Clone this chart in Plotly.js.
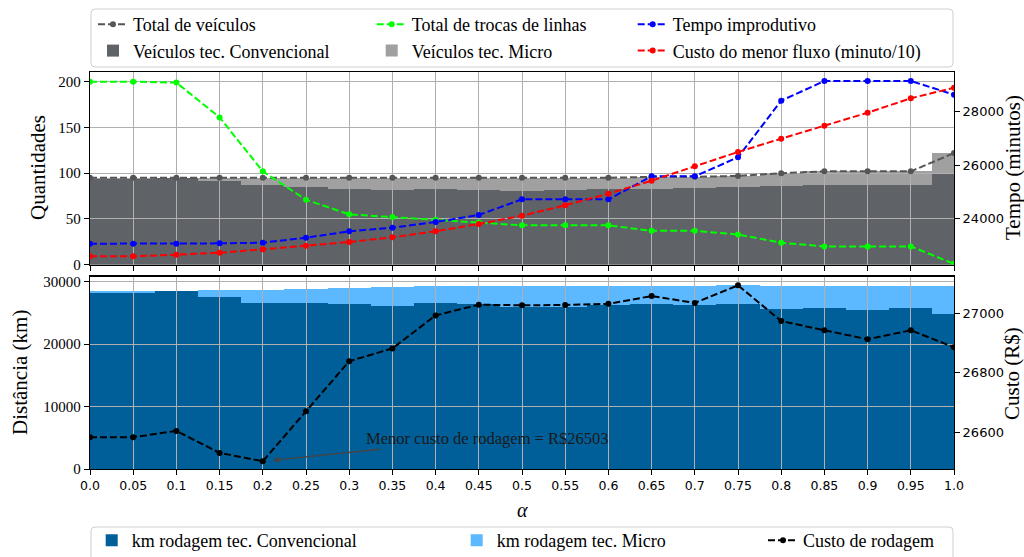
<!DOCTYPE html>
<html><head><meta charset="utf-8">
<script src="https://cdn.plot.ly/plotly-3.0.1.min.js"></script>
<style>html,body{margin:0;padding:0;background:#fff;}#chart{width:1024px;height:557px;}</style>
</head><body><div id="chart"></div>
<script>
// ---------- data ----------
const alpha = [0,0.05,0.1,0.15,0.2,0.25,0.3,0.35,0.4,0.45,0.5,0.55,0.6,0.65,0.7,0.75,0.8,0.85,0.9,0.95,1.0];
const alphaLabels = ['0.0','0.05','0.1','0.15','0.2','0.25','0.3','0.35','0.4','0.45','0.5','0.55','0.6','0.65','0.7','0.75','0.8','0.85','0.9','0.95','1.0'];
const totalVeiculos = [95,95,95,95,95,95,95,95,95,95,95,95,95,96,96,97,100,102,102,102,122];
const veiculosConv = [94,94,95,91,87,85,83,82,83,82,81,82,83,83,84,85,86,87,87,87,100];
const veiculosMicro = [1,1,0,4,8,10,12,13,12,13,14,13,12,13,12,12,14,15,15,15,22];
const trocasLinhas = [200,200,199,161,102,71,55,52,49,46,43,43,43,37,37,33,24,20,20,20,1];
const tempoImprodutivo = [23065,23065,23065,23078,23103,23290,23529,23664,23877,24138,24725,24725,24725,25585,25585,26295,28411,29148,29148,29148,28636];
const custoMenorFluxo = [22594,22594,22654,22729,22853,22990,23129,23304,23529,23802,24112,24501,24935,25421,25959,26494,26991,27477,27963,28500,28897];
const kmConv = [28259,28259,28580,27618,26657,26657,26390,26176,26657,26390,26016,26016,26229,26497,26229,26497,25642,25802,25482,25802,24894];
const kmMicro = [270,270,0,1070,2030,2190,2620,3040,2720,2990,3370,3370,3150,2880,3150,3040,3740,3580,3900,3580,4490];
const custoRodagem = [26584,26584,26605,26531,26503,26671,26839,26882,26993,27029,27027,27028,27032,27058,27035,27094,26974,26943,26913,26943,26886];
const leftTicksTop = [0,50,100,150,200];
const rightTicksTop = [24000,26000,28000];
const leftTicksBottom = [0,10000,20000,30000];
const rightTicksBottom = [26600,26800,27000];

// ---------- styling ----------
const SERIF = 'Liberation Serif, Times New Roman, serif';
const SANS = 'DejaVu Sans, sans-serif';
const GRID = '#b0b0b0';
const DASH = '7px,3px';
const W = 1024, H = 557;
const M = {l: 90, r: 70, t: 72, b: 88};
const PW = W - M.l - M.r, PH = H - M.t - M.b;
const px2x = p => (p - M.l) / PW;
const py2y = p => (H - M.b - p) / PH;

function lineTrace(name, y, color, xa, ya, legend, rank) {
  return {type: 'scatter', mode: 'lines+markers', x: alpha, y: y, name: name,
    xaxis: xa, yaxis: ya, legend: legend, legendrank: rank,
    line: {color: color, width: 2, dash: DASH}, marker: {color: color, size: 6}};
}
function barTrace(name, y, color, xa, ya, legend, rank) {
  return {type: 'bar', x: alpha, y: y, name: name, width: 0.05,
    xaxis: xa, yaxis: ya, legend: legend, legendrank: rank,
    marker: {color: color, line: {width: 0}}};
}

const traces = [
  barTrace('Veículos tec. Convencional', veiculosConv, '#5f6266', 'x', 'y', 'legend', 2),
  barTrace('Veículos tec. Micro', veiculosMicro, '#a0a0a0', 'x', 'y', 'legend2', 2),
  barTrace('km rodagem tec. Convencional', kmConv, '#005f99', 'x2', 'y2', 'legend4', 1),
  barTrace('km rodagem tec. Micro', kmMicro, '#5cb8ff', 'x2', 'y2', 'legend5', 1),
  lineTrace('Total de veículos', totalVeiculos, '#555555', 'x3', 'y3', 'legend', 1),
  lineTrace('Total de trocas de linhas', trocasLinhas, '#00ff00', 'x3', 'y3', 'legend2', 1),
  lineTrace('Tempo improdutivo', tempoImprodutivo, '#0000ff', 'x3', 'y4', 'legend3', 1),
  lineTrace('Custo do menor fluxo (minuto/10)', custoMenorFluxo, '#ff0000', 'x3', 'y4', 'legend3', 2),
  // empty helper so the bottom left (grid) axis owns a subplot
  {type: 'scatter', mode: 'lines', x: [], y: [], xaxis: 'x5', yaxis: 'y5', showlegend: false, hoverinfo: 'skip'},
  lineTrace('Custo de rodagem', custoRodagem, '#000000', 'x5', 'y6', 'legend6', 1)
];

const topDom = [py2y(264.7), 1];
const botDom = [0, py2y(276.7)];
const hidden = {visible: false, fixedrange: true};

function xGrid(anchor, labels) {
  return {domain: [0, 1], anchor: anchor, range: [0, 1], tickmode: 'array', tickvals: alpha,
    ticktext: alphaLabels, showticklabels: labels, ticks: 'outside', ticklen: 5, tickwidth: 1, tickcolor: '#000',
    showgrid: true, gridcolor: GRID, gridwidth: 1, zeroline: false, showline: true, linecolor: '#000',
    linewidth: 1.3, mirror: true, tickfont: {family: SANS, size: 12.5, color: '#000'}};
}
function yLeft(dom, anchor, range, ticks) {
  return {domain: dom, anchor: anchor, range: range, tickmode: 'array', tickvals: ticks, tickformat: 'd',
    ticks: 'outside', ticklen: 5, tickwidth: 1, tickcolor: '#000', showgrid: true, gridcolor: GRID, gridwidth: 1,
    zeroline: false, showline: true, linecolor: '#000', linewidth: 1.3, mirror: true,
    tickfont: {family: SERIF, size: 15, color: '#000'}};
}
function yRight(over, anchor, range, ticks) {
  return {overlaying: over, anchor: anchor, side: 'right', range: range, tickmode: 'array', tickvals: ticks,
    tickformat: 'd', ticks: 'outside', ticklen: 5, tickwidth: 1, tickcolor: '#000', showgrid: false,
    zeroline: false, showline: false, tickfont: {family: SANS, size: 13, color: '#000'}};
}

function legendAt(textX, topY) {
  return {x: px2x(textX - 40), y: py2y(topY), xanchor: 'left', yanchor: 'top', orientation: 'v',
    bgcolor: 'rgba(0,0,0,0)', borderwidth: 0, traceorder: 'normal', itemwidth: 30,
    font: {family: SERIF, size: 18, color: '#000'}, tracegroupgap: 0};
}

function roundRect(x0, y0, x1, y1, r) {
  const X = px2x, Y = py2y;
  return `M${X(x0 + r)},${Y(y0)} L${X(x1 - r)},${Y(y0)} Q${X(x1)},${Y(y0)} ${X(x1)},${Y(y0 + r)} ` +
    `L${X(x1)},${Y(y1 - r)} Q${X(x1)},${Y(y1)} ${X(x1 - r)},${Y(y1)} L${X(x0 + r)},${Y(y1)} ` +
    `Q${X(x0)},${Y(y1)} ${X(x0)},${Y(y1 - r)} L${X(x0)},${Y(y0 + r)} Q${X(x0)},${Y(y0)} ${X(x0 + r)},${Y(y0)} Z`;
}

const minCost = Math.min(...custoRodagem);
const minIdx = custoRodagem.indexOf(minCost);

function title(text, px, py, angle, size, italic) {
  return {text: italic ? '<i>' + text + '</i>' : text, xref: 'paper', yref: 'paper', x: px2x(px), y: py2y(py),
    xanchor: 'center', yanchor: 'middle', showarrow: false, textangle: angle,
    font: {family: SERIF, size: size, color: '#000'}};
}

const layout = {
  width: W, height: H, margin: Object.assign({autoexpand: false, pad: 0}, M),
  paper_bgcolor: '#fff', plot_bgcolor: 'rgba(0,0,0,0)', barmode: 'stack', bargap: 0,
  showlegend: true, hovermode: false,
  xaxis: Object.assign({domain: [0, 1], anchor: 'y', range: [0, 1]}, hidden),
  yaxis: Object.assign({domain: topDom, anchor: 'x', range: [0, 210.6]}, hidden),
  xaxis2: Object.assign({domain: [0, 1], anchor: 'y2', range: [0, 1]}, hidden),
  yaxis2: Object.assign({domain: botDom, anchor: 'x2', range: [0, 30800]}, hidden),
  xaxis3: xGrid('y3', false),
  yaxis3: yLeft(topDom, 'x3', [0, 210.6], leftTicksTop),
  yaxis4: yRight('y3', 'x3', [22280, 29484], rightTicksTop),
  xaxis5: xGrid('y5', true),
  yaxis5: yLeft(botDom, 'x5', [0, 30800], leftTicksBottom),
  yaxis6: yRight('y5', 'x5', [26477, 27123], rightTicksBottom),
  legend: legendAt(133, 6),
  legend2: legendAt(411.7, 6),
  legend3: legendAt(672.7, 6),
  legend4: legendAt(131.7, 522),
  legend5: legendAt(496.7, 522),
  legend6: legendAt(803, 522),
  shapes: [
    {type: 'path', xref: 'paper', yref: 'paper', layer: 'below', path: roundRect(91, 9, 953, 67, 4),
      line: {color: '#cfcfcf', width: 1}, fillcolor: '#fff'},
    {type: 'path', xref: 'paper', yref: 'paper', layer: 'below', path: roundRect(91, 527, 953, 575, 4),
      line: {color: '#cfcfcf', width: 1}, fillcolor: '#fff'}
  ],
  annotations: [
    {xref: 'x5', yref: 'y6', x: alpha[minIdx], y: minCost, text: 'Menor custo de rodagem = R$' + minCost,
      showarrow: true, ax: 225, ay: -23, arrowhead: 2, arrowsize: 1, arrowwidth: 1.3, arrowcolor: '#444',
      standoff: 10, font: {family: SERIF, size: 16.5, color: '#1a1a1a'}},
    title('Quantidades', 38, 168, -90, 21),
    title('Distância (km)', 20, 373, -90, 21),
    title('Tempo (minutos)', 1013, 168, -90, 21),
    title('Custo (R$)', 1012, 373, -90, 21),
    title('α', 522, 510, 0, 20, true)
  ]
};

Plotly.newPlot('chart', traces, layout, {displayModeBar: false, staticPlot: true});
</script>
</body></html>
